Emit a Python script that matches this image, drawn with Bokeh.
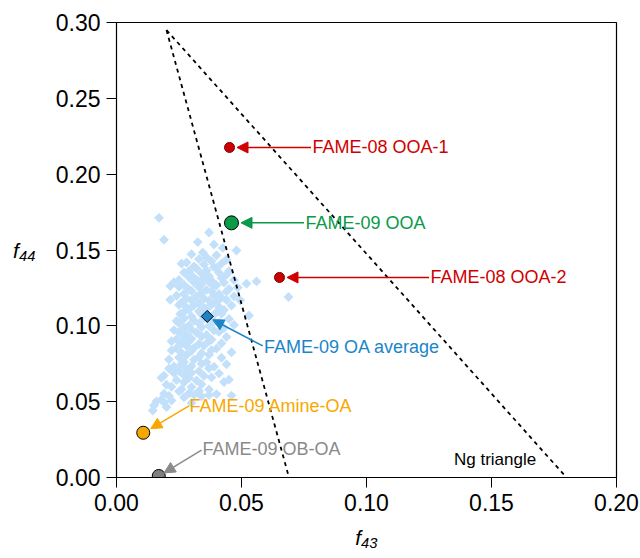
from bokeh.plotting import figure
from bokeh.models import Label, Arrow, NormalHead, FixedTicker, NumeralTickFormatter, Range1d
from bokeh.embed import file_html
from bokeh.resources import INLINE

# ---------------- data ----------------
# FAME-09 individual OA spectra (light blue cloud), f43 / f44
oa_f43 = [
    0.017,
    0.037,
    0.019, 0.0325,
    0.039,
    0.0425,
    0.0345, 0.048,
    0.030, 0.036, 0.040,
    0.028, 0.033, 0.038, 0.044,
    0.026, 0.031, 0.035, 0.039, 0.042,
    0.029, 0.032, 0.036, 0.040, 0.045,
    0.027, 0.030, 0.034, 0.037, 0.041, 0.044,
    0.025, 0.029, 0.032, 0.035, 0.038, 0.042, 0.047,
    0.023, 0.056,
    0.027, 0.031, 0.034, 0.037, 0.040, 0.043, 0.052,
    0.0215,
    0.025, 0.029, 0.033, 0.036, 0.039, 0.045, 0.0485,
    0.027, 0.030, 0.034, 0.038, 0.041, 0.044,
    0.024, 0.028, 0.032, 0.035, 0.039, 0.042, 0.047, 0.0688,
    0.0215, 0.0495,
    0.026, 0.030, 0.033, 0.037, 0.040, 0.044,
    0.025, 0.028, 0.031, 0.035, 0.038, 0.041, 0.046,
    0.027, 0.029, 0.033, 0.036, 0.040, 0.043,
    0.0255, 0.030, 0.034, 0.038, 0.042, 0.053,
    0.024, 0.027, 0.031, 0.035, 0.039, 0.045,
    0.025, 0.029, 0.033, 0.037, 0.041, 0.047,
    0.023, 0.027, 0.030, 0.034, 0.039, 0.043,
    0.025, 0.028, 0.032, 0.036, 0.041,
    0.024, 0.027, 0.030, 0.034, 0.038, 0.044,
    0.022, 0.026, 0.029, 0.033, 0.037, 0.042,
    0.024, 0.028, 0.031, 0.035, 0.040,
    0.022, 0.026, 0.030, 0.034, 0.038, 0.046,
    0.025, 0.028, 0.033, 0.037, 0.042,
    0.021, 0.027, 0.031, 0.036,
    0.023, 0.026, 0.030, 0.034, 0.039, 0.044,
    0.021, 0.025, 0.028, 0.033, 0.037,
    0.019, 0.023, 0.027, 0.030, 0.035, 0.041,
    0.018, 0.024, 0.029, 0.032, 0.038, 0.045,
    0.020, 0.027, 0.034, 0.043,
    0.022, 0.026, 0.030, 0.037,
    0.019, 0.025, 0.029, 0.033, 0.040,
    0.021, 0.031, 0.034, 0.037, 0.046,
    0.018, 0.027,
    0.016, 0.019, 0.022, 0.030,
    0.015, 0.020,
    0.0145,
]
oa_f44 = [
    0.1712,
    0.1615,
    0.1568, 0.1552,
    0.1536,
    0.1514,
    0.1483, 0.1497,
    0.1472, 0.1452, 0.1465,
    0.1418, 0.1440, 0.1426, 0.1436,
    0.1410, 0.1392, 0.1405, 0.1387, 0.1410,
    0.1362, 0.1378, 0.1365, 0.1382, 0.1360,
    0.1352, 0.1333, 0.1346, 0.1327, 0.1350, 0.1336,
    0.1302, 0.1320, 0.1305, 0.1318, 0.1298, 0.1315, 0.1302,
    0.1288, 0.1293,
    0.1270, 0.1287, 0.1274, 0.1290, 0.1268, 0.1285, 0.1278,
    0.1262,
    0.1258, 0.1240, 0.1255, 0.1237, 0.1260, 0.1243, 0.1252,
    0.1212, 0.1230, 0.1215, 0.1228, 0.1210, 0.1226,
    0.1198, 0.1182, 0.1196, 0.1180, 0.1200, 0.1185, 0.1195, 0.1190,
    0.1172, 0.1168,
    0.1152, 0.1168, 0.1150, 0.1166, 0.1155, 0.1170,
    0.1138, 0.1122, 0.1136, 0.1120, 0.1140, 0.1125, 0.1134,
    0.1092, 0.1108, 0.1095, 0.1110, 0.1090, 0.1105,
    0.1078, 0.1062, 0.1076, 0.1060, 0.1080, 0.1068,
    0.1032, 0.1048, 0.1035, 0.1050, 0.1030, 0.1045,
    0.1018, 0.1002, 0.1016, 0.1000, 0.1020, 0.1006,
    0.0972, 0.0988, 0.0975, 0.0990, 0.0970, 0.0986,
    0.0958, 0.0942, 0.0956, 0.0940, 0.0960,
    0.0912, 0.0928, 0.0915, 0.0930, 0.0910, 0.0926,
    0.0898, 0.0882, 0.0896, 0.0880, 0.0900, 0.0885,
    0.0852, 0.0868, 0.0855, 0.0870, 0.0850,
    0.0838, 0.0822, 0.0836, 0.0820, 0.0840, 0.0826,
    0.0792, 0.0808, 0.0795, 0.0810, 0.0790,
    0.0778, 0.0762, 0.0776, 0.0760,
    0.0732, 0.0748, 0.0735, 0.0750, 0.0730, 0.0746,
    0.0718, 0.0702, 0.0716, 0.0700, 0.0720,
    0.0672, 0.0688, 0.0675, 0.0690, 0.0670, 0.0686,
    0.0658, 0.0642, 0.0656, 0.0640, 0.0660, 0.0645,
    0.0612, 0.0628, 0.0615, 0.0630,
    0.0598, 0.0582, 0.0596, 0.0580,
    0.0552, 0.0568, 0.0555, 0.0570, 0.0550,
    0.0538, 0.0545, 0.0536, 0.0544, 0.0540,
    0.0515, 0.0528,
    0.0502, 0.0495, 0.0508, 0.0492,
    0.0475, 0.0465,
    0.0442,
]

# highlighted factors
factor_names = ["FAME-08 OOA-1", "FAME-09 OOA", "FAME-08 OOA-2",
                "FAME-09 OA average", "FAME-09 Amine-OA", "FAME-09 OB-OA"]
factor_f43 = [0.0452, 0.0460, 0.0652, 0.0363, 0.0107, 0.0169]
factor_f44 = [0.2176, 0.1679, 0.1319, 0.1062, 0.0295, 0.0010]

# Ng triangle (apex -> bottom-left, apex -> bottom-right)
tri_left_f43 = [0.0200, 0.0690]
tri_left_f44 = [0.2950, 0.0000]
tri_right_f43 = [0.0200, 0.1800]
tri_right_f44 = [0.2950, 0.0000]

x_ticks = [0.00, 0.05, 0.10, 0.15, 0.20]
y_ticks = [0.00, 0.05, 0.10, 0.15, 0.20, 0.25, 0.30]

# ---------------- styles ----------------
FONT = "Liberation Sans"
styles = [
    dict(marker="circle", size=10, fill="#cc0000", line="#7a0000", tcol="#d00000",
         lx=0.0784, ly=0.2176, ax=0.0778, ay=0.2176, ex=0.0482, ey=0.2176),
    dict(marker="circle", size=14, fill="#0b9a48", line="#000000", tcol="#0b9a48",
         lx=0.0756, ly=0.1680, ax=0.0750, ay=0.1680, ex=0.0498, ey=0.1679),
    dict(marker="circle", size=10, fill="#cc0000", line="#7a0000", tcol="#d00000",
         lx=0.1256, ly=0.1319, ax=0.1250, ay=0.1319, ex=0.0682, ey=0.1319),
    dict(marker="diamond", size=8.5, fill="#1b85c8", line="#000000", tcol="#1b85c8",
         lx=0.0590, ly=0.0860, ax=0.0585, ay=0.0868, ex=0.0385, ey=0.1040),
    dict(marker="circle", size=13, fill="#f7a800", line="#000000", tcol="#f7a800",
         lx=0.0292, ly=0.0470, ax=0.0290, ay=0.0472, ex=0.0137, ey=0.0322),
    dict(marker="circle", size=13, fill="#808080", line="#000000", tcol="#8a8a8a",
         lx=0.0344, ly=0.0185, ax=0.0340, ay=0.0180, ex=0.0190, ey=0.0030),
]

# ---------------- figure ----------------
p = figure(width=640, height=558,
           x_range=Range1d(0, 0.2), y_range=Range1d(0, 0.3),
           output_backend="svg", toolbar_location=None,
           min_border_left=116, min_border_right=24,
           min_border_top=22, min_border_bottom=81)
p.xgrid.visible = False
p.ygrid.visible = False
p.outline_line_color = "black"
p.outline_line_width = 1.2
p.outline_line_alpha = 1
p.background_fill_color = "white"
p.border_fill_color = "white"

for ax, ticks in ((p.xaxis, x_ticks), (p.yaxis, y_ticks)):
    ax.ticker = FixedTicker(ticks=ticks)
    ax.formatter = NumeralTickFormatter(format="0.00")
    ax.major_tick_out = 10
    ax.major_tick_in = 0
    ax.minor_tick_out = 0
    ax.minor_tick_in = 0
    ax.major_tick_line_color = "black"
    ax.axis_line_color = "black"
    ax.major_label_text_font = FONT
    ax.major_label_text_font_size = "23px"
    ax.major_label_text_color = "black"
    ax.major_label_standoff = 6
    ax.axis_label_text_font = FONT
    ax.axis_label_text_font_style = "italic"
    ax.axis_label_text_font_size = "21px"
    ax.axis_label_text_color = "black"

p.xaxis.axis_label = "f\u2084\u2083"
p.xaxis.axis_label_standoff = 12
p.yaxis.axis_label = "f\u2084\u2084"
p.yaxis.axis_label_orientation = "horizontal"
p.yaxis.axis_label_standoff = 17

# cloud of OA spectra
p.scatter(oa_f43, oa_f44, marker="square", size=7, angle=0.7854,
          fill_color="#c3e0fa", line_color=None)

# Ng triangle
p.line(tri_left_f43, tri_left_f44, line_color="black", line_width=1.8, line_dash="4 4")
p.line(tri_right_f43, tri_right_f44, line_color="black", line_width=1.8, line_dash="4 4")

# arrows, markers and labels
for name, fx, fy, st in zip(factor_names, factor_f43, factor_f44, styles):
    col = st["tcol"]
    p.add_layout(Arrow(end=NormalHead(size=11, fill_color=col, line_color=col),
                       x_start=st["ax"], y_start=st["ay"], x_end=st["ex"], y_end=st["ey"],
                       line_color=col, line_width=1.5))
    if st["marker"] == "diamond":
        p.scatter([fx], [fy], marker="square", size=st["size"], angle=0.7854,
                  fill_color=st["fill"], line_color=st["line"], line_width=1)
    else:
        p.scatter([fx], [fy], marker="circle", size=st["size"],
                  fill_color=st["fill"], line_color=st["line"], line_width=1)
    p.add_layout(Label(x=st["lx"], y=st["ly"], text=name, text_font=FONT,
                       text_font_size="18px", text_color=col,
                       text_align="left", text_baseline="middle"))

p.add_layout(Label(x=0.135, y=0.012, text="Ng triangle", text_font=FONT,
                   text_font_size="17px", text_color="black",
                   text_align="left", text_baseline="middle"))

open("out.html", "w").write(file_html(p, INLINE))
